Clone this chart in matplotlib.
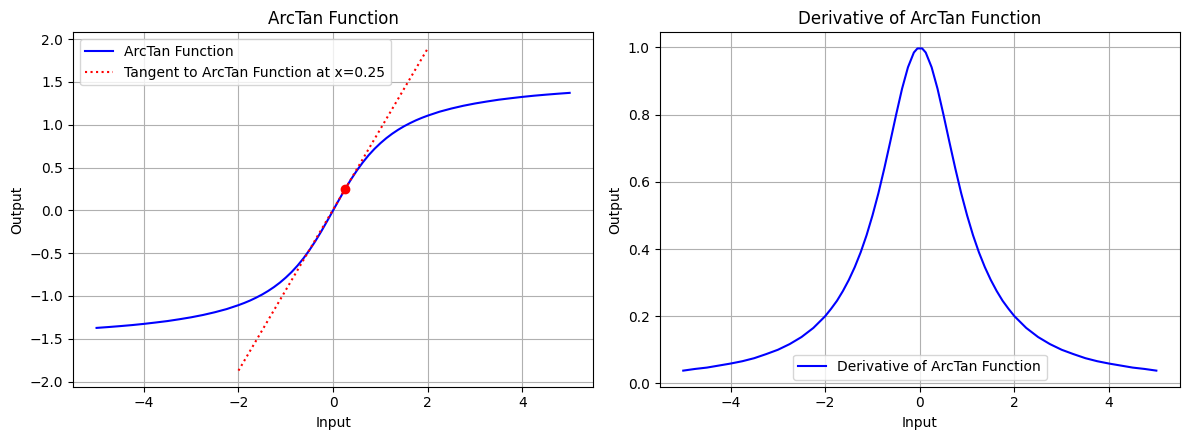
import matplotlib
matplotlib.use('Agg')
import matplotlib.pyplot as plt

# values
x_vals = [-5.0, -4.75, -4.5, -4.25, -4.0, -3.75, -3.5, -3.25, -3.0, -2.75,
          -2.5, -2.25, -2.0, -1.875, -1.75, -1.625, -1.5, -1.375, -1.25,
          -1.125, -1.0, -0.875, -0.75, -0.625, -0.5, -0.375, -0.25, -0.125,
          -0.05, 0.05, 0.125, 0.25, 0.375, 0.5, 0.625, 0.75, 0.875, 1.0,
          1.125, 1.25, 1.375, 1.5, 1.625, 1.75, 1.875, 2.0, 2.25, 2.5, 2.75,
          3.0, 3.25, 3.5, 3.75, 4.0, 4.25, 4.5, 4.75, 5.0]
arctan_vals = [-1.373, -1.363, -1.352, -1.340, -1.326, -1.310, -1.293, -1.272,
               -1.249, -1.222, -1.190, -1.153, -1.107, -1.081, -1.052, -1.019,
               -0.983, -0.942, -0.896, -0.844, -0.785, -0.719, -0.644, -0.559,
               -0.464, -0.359, -0.245, -0.124, -0.050, 0.050, 0.124, 0.245,
               0.359, 0.464, 0.559, 0.644, 0.719, 0.785, 0.844, 0.896, 0.942,
               0.983, 1.019, 1.052, 1.081, 1.107, 1.153, 1.190, 1.222, 1.249,
               1.272, 1.293, 1.310, 1.326, 1.340, 1.352, 1.363, 1.373]
deriv_vals = [0.038, 0.043, 0.047, 0.053, 0.059, 0.066, 0.075, 0.087, 0.100,
              0.117, 0.138, 0.165, 0.200, 0.222, 0.246, 0.275, 0.308, 0.346,
              0.390, 0.441, 0.500, 0.566, 0.640, 0.719, 0.800, 0.877, 0.941,
              0.985, 0.997, 0.997, 0.985, 0.941, 0.877, 0.800, 0.719, 0.640,
              0.566, 0.500, 0.441, 0.390, 0.346, 0.308, 0.275, 0.246, 0.222,
              0.200, 0.165, 0.138, 0.117, 0.100, 0.087, 0.075, 0.066, 0.059,
              0.053, 0.047, 0.043, 0.038]

tangent_x = [-2.0, 2.0]
tangent_y = [-1.872, 1.892]
point_x = 0.25
point_y = 0.245

fig, axes = plt.subplots(1, 2, figsize=(12, 4.5), dpi=100)

ax = axes[0]
ax.plot(x_vals, arctan_vals, 'b-', label='ArcTan Function')
ax.plot(tangent_x, tangent_y, 'r:', label='Tangent to ArcTan Function at x=0.25')
ax.scatter([point_x], [point_y], color='red', zorder=3)
ax.set_title('ArcTan Function')
ax.set_xlabel('Input')
ax.set_ylabel('Output')
ax.legend(loc='upper left')
ax.grid(True)

ax = axes[1]
ax.plot(x_vals, deriv_vals, 'b-', label='Derivative of ArcTan Function')
ax.set_title('Derivative of ArcTan Function')
ax.set_xlabel('Input')
ax.set_ylabel('Output')
ax.legend(loc='lower center')
ax.grid(True)

plt.tight_layout()
plt.savefig('out.png', dpi=100, bbox_inches='tight')
